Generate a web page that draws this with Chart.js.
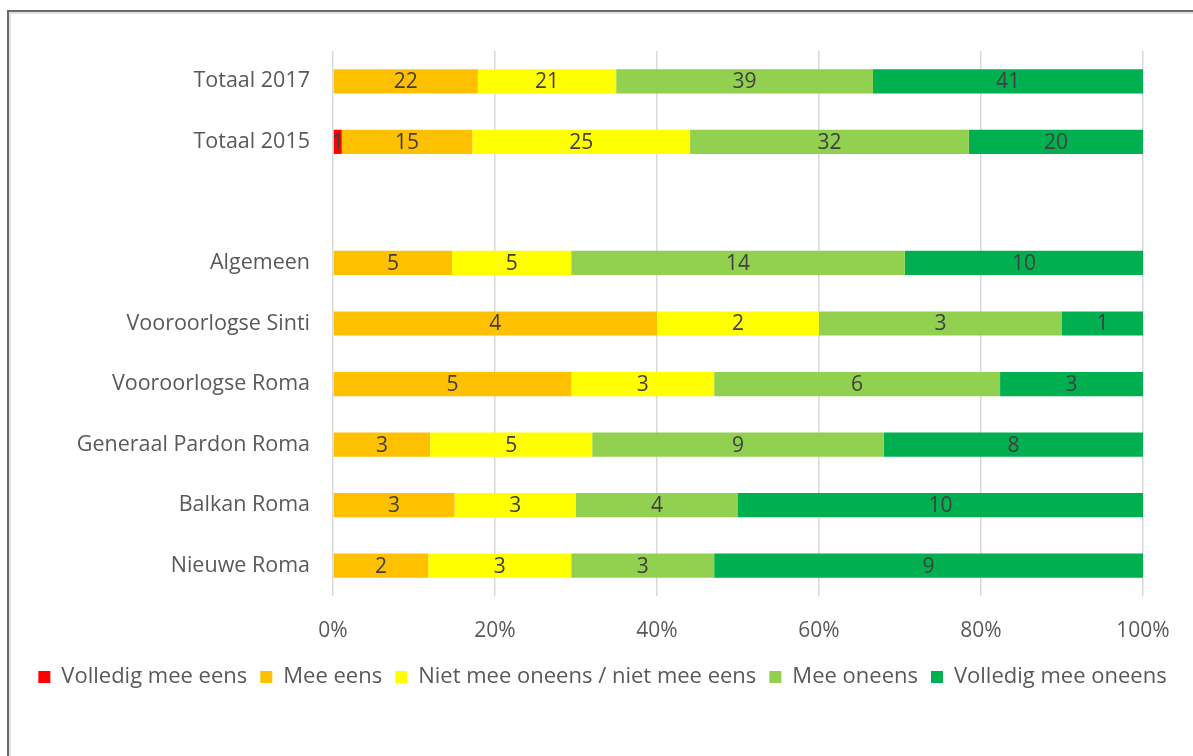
<!DOCTYPE html>
<html>
<head>
<meta charset="utf-8">
<script src="https://cdn.jsdelivr.net/npm/chart.js@4"></script>
<style>
  html, body { margin: 0; padding: 0; background: #fff; }
  #wrap { position: relative; width: 1193px; height: 756px; overflow: hidden; }
  #frame {
    position: absolute; left: 7px; top: 10px; width: 1300px; height: 900px;
    border-left: 2px solid #6a6a6a; border-top: 2px solid #6a6a6a;
    box-shadow: inset 2px 2px 0 #e2e2e2;
  }
  #c { position: absolute; left: 0; top: 0; }
</style>
</head>
<body>
<div id="wrap">
  <div id="frame"></div>
  <canvas id="c" width="1193" height="756"></canvas>
</div>
<script>
// categorieen (lege rij = witruimte tussen totalen en groepen)
const categories = ["Totaal 2017", "Totaal 2015", "", "Algemeen", "Vooroorlogse Sinti",
  "Vooroorlogse Roma", "Generaal Pardon Roma", "Balkan Roma", "Nieuwe Roma"];

// aantallen per antwoord
const volledigEens   = [0, 1, 0, 0, 0, 0, 0, 0, 0];
const meeEens        = [22, 15, 0, 5, 4, 5, 3, 3, 2];
const neutraal       = [21, 25, 0, 5, 2, 3, 5, 3, 3];
const meeOneens      = [39, 32, 0, 14, 3, 6, 9, 4, 3];
const volledigOneens = [41, 20, 0, 10, 1, 3, 8, 10, 9];

const seriesNames = ["Volledig mee eens", "Mee eens", "Niet mee oneens / niet mee eens",
  "Mee oneens", "Volledig mee oneens"];
const seriesColors = ["#FF0000", "#FFC000", "#FFFF00", "#92D050", "#00B050"];
const xTicks = [0, 20, 40, 60, 80, 100];

const allSeries = [volledigEens, meeEens, neutraal, meeOneens, volledigOneens];
const totals = categories.map((_, i) => allSeries.reduce((s, arr) => s + arr[i], 0));
const pct = arr => arr.map((v, i) => totals[i] ? v / totals[i] * 100 : 0);

const FONT = "'Open Sans', sans-serif";

// labels met aantallen in het midden van elk segment
const countLabels = {
  id: "countLabels",
  afterDatasetsDraw(chart) {
    const ctx = chart.ctx;
    ctx.save();
    ctx.font = "21px " + FONT;
    ctx.fillStyle = "#404040";
    ctx.textAlign = "center";
    ctx.textBaseline = "middle";
    chart.data.datasets.forEach((ds, di) => {
      const meta = chart.getDatasetMeta(di);
      meta.data.forEach((bar, i) => {
        const n = allSeries[di][i];
        if (!n) return;
        const p = bar.getProps(["x", "base", "y"], true);
        ctx.fillText(String(n), (p.x + p.base) / 2, p.y + 1);
      });
    });
    ctx.restore();
  }
};

new Chart(document.getElementById("c"), {
  type: "bar",
  data: {
    labels: categories,
    datasets: allSeries.map((arr, k) => ({
      label: seriesNames[k],
      data: pct(arr),
      backgroundColor: seriesColors[k],
      borderWidth: 0,
      barPercentage: 0.4,
      categoryPercentage: 1
    }))
  },
  options: {
    indexAxis: "y",
    responsive: false,
    animation: false,
    layout: { padding: { top: 51, right: 0, left: 12, bottom: 58 } },
    scales: {
      x: {
        stacked: true, min: 0, max: 100,
        afterBuildTicks: s => { s.ticks = xTicks.map(v => ({ value: v })); },
        afterFit: s => { s.height = 57; },
        grid: { color: "#d9d9d9", lineWidth: 1.5, drawTicks: false },
        border: { display: false },
        ticks: { color: "#595959", font: { family: FONT, size: 21 }, padding: 22,
          callback: v => v + "%" }
      },
      y: {
        stacked: true,
        afterFit: s => { s.width = 321; },
        grid: { display: false, drawTicks: false },
        border: { display: false },
        ticks: { color: "#595959", font: { family: FONT, size: 21.5 }, padding: 23 }
      },
      // lege rechteras, alleen als marge rechts van het plotvlak
      yRight: {
        type: "linear", axis: "y", position: "right",
        afterFit: s => { s.width = 50; },
        grid: { display: false, drawTicks: false },
        border: { display: false },
        ticks: { display: false }
      }
    },
    plugins: {
      tooltip: { enabled: false },
      legend: {
        position: "bottom",
        labels: { color: "#595959", font: { family: FONT, size: 22 },
          boxWidth: 12, boxHeight: 12, padding: 13 }
      }
    }
  },
  plugins: [countLabels]
});
</script>
</body>
</html>
